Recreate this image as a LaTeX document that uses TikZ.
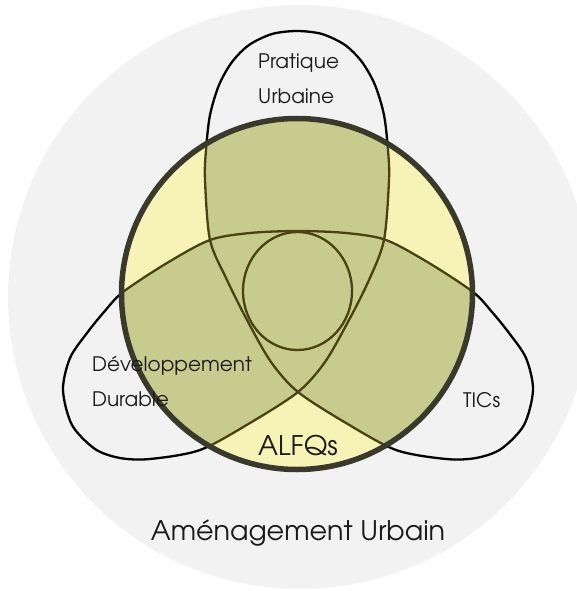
\documentclass[tikz,border=0pt]{standalone}
\usepackage{fontspec}
\setmainfont{TeX Gyre Adventor}
\usetikzlibrary{positioning}

\definecolor{bggray}{HTML}{F2F2F2}
\definecolor{paleyellow}{HTML}{F7F3B6}
\definecolor{olivefill}{HTML}{C8CB8E}
\definecolor{darkolive}{HTML}{4A4212}
\definecolor{rimgray}{HTML}{3A3A2C}
\definecolor{inkblack}{HTML}{1A1A1A}

\begin{document}
\begin{tikzpicture}[x=1pt, y=-1pt]
    % Styles
    \tikzstyle{loop} = [line width=2.3pt, black]
    \tikzstyle{loopin} = [line width=2.3pt, darkolive]
    \tikzstyle{rim} = [line width=5.5pt, rimgray]
    \tikzstyle{small} = [inner sep=0pt, text=inkblack, align=left, font=\fontsize{20}{35}\selectfont]
    \tikzstyle{large} = [inner sep=0pt, text=inkblack, font=\fontsize{27}{36}\selectfont]

    \useasboundingbox (0,0) rectangle (577,591);
    \def\trefoil{plot[smooth cycle, tension=0.5] coordinates {
        (297,31) (322,34) (345,45) (362,62) (375,85) (384,115) (388,150)
        (389,180) (384,240) (369,280)
        (349,320) (325,362) (298,392) (250,423) (200,450) (150,459) (120,458)
        (95,449) (72,425) (63,390) (70,358) (87,333) (104,312) (123,292)
        (167,263) (210,240) (250,233) (298,231) (346,233) (386,240) (429,263)
        (473,292) (492,312) (509,333) (526,358) (533,390) (524,425) (501,449)
        (476,458) (446,459) (396,450) (346,423) (298,392) (271,362) (247,320)
        (227,280) (210,240) (205,180) (206,150) (210,115) (219,85) (232,62)
        (249,45) (272,34)}}
    \coordinate (c) at (297,294);

    % Shapes
    \fill[bggray] (300,297) circle (292);
    \draw[loop] \trefoil;
    \fill[paleyellow] (c) circle (176);
    \begin{scope}
        \clip (c) circle (176);
        \fill[olivefill] \trefoil;
        \draw[loopin] \trefoil;
    \end{scope}
    \draw[loopin] (297.5,291) ellipse [x radius=54.5, y radius=59];
    \draw[rim] (c) circle (175.5);

    % Nodes
    \node[small, anchor=base west] (prat) at (258,103) {Pratique\\Urbaine};
    \node[small, anchor=base west] (dev) at (92,406) {Développement\\Durable};
    \node[small, anchor=base west] (tic) at (463,407) {TICs};
    \node[large, anchor=base] (alfq) at (298,455) {ALFQs};
    \node[large, below=85pt of alfq.base, anchor=base] (amen) {Aménagement Urbain};
\end{tikzpicture}
\end{document}
